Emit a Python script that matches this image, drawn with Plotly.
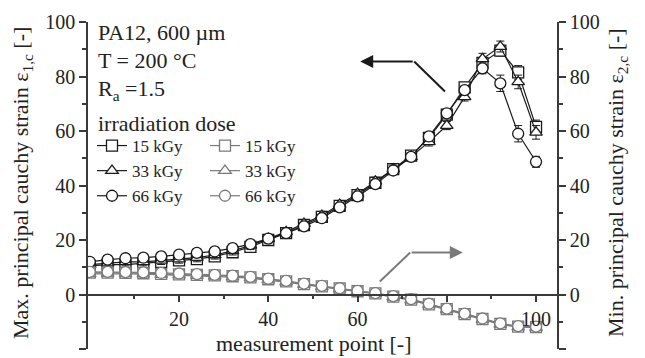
import plotly.graph_objects as go

# measurement points
points = [0, 4, 8, 12, 16, 20, 24, 28, 32, 36, 40, 44, 48, 52, 56, 60, 64, 68, 72, 76, 80, 84, 88, 92, 96, 100]

# max. principal cauchy strain (left axis)
max_15 = [10.5, 11, 11, 11.5, 12, 12.5, 13, 14, 15.5, 17.5, 20, 22.5, 25.5, 28.5, 32.5, 36.5, 41, 46, 51, 57.5, 66, 76, 85, 89.5, 81.5, 61.5]
max_33 = [11, 11.5, 12, 12, 12.5, 13, 13.5, 14.5, 16, 18, 20.5, 23, 26, 29, 33, 37, 41.5, 46, 50.5, 56, 62, 72.5, 86.5, 91, 78, 59.5]
max_66 = [12, 12.8, 13.3, 13.5, 14, 14.6, 15.3, 15.8, 17, 18.5, 20.5, 22.5, 25, 28, 32, 36, 40.5, 45.5, 50.5, 58, 66.5, 75, 83, 77.5, 59, 48.7]
err_max_15 = [1.5] * 22 + [2, 2, 2.5, 2.5]
err_max_33 = [1.5] * 22 + [2, 2, 2.5, 2.5]
err_max_66 = [1.5] * 22 + [2, 3, 3, 2]

# min. principal cauchy strain (right axis)
min_15 = [8, 8, 7.9, 7.8, 7.6, 7.4, 7.2, 7, 6.7, 6.3, 5.6, 4.8, 3.8, 3, 2.2, 1.2, 0.4, -0.8, -1.9, -3.6, -5.4, -7.2, -9, -10.8, -11.8, -12]
min_33 = [7.6, 7.7, 7.6, 7.5, 7.3, 7.1, 6.9, 6.7, 6.4, 6, 5.3, 4.5, 3.6, 2.8, 2, 1, 0.2, -1, -2.1, -3.8, -5.6, -7.4, -9.2, -11, -12, -12.2]
min_66 = [8.3, 8.3, 8.2, 8.1, 7.9, 7.7, 7.5, 7.2, 6.9, 6.5, 5.8, 5, 4, 3.2, 2.3, 1.3, 0.5, -0.6, -1.7, -3.4, -5.2, -7, -8.8, -10.6, -11.6, -11.8]
err_min = [1.0] * 26

doses = ["15 kGy", "33 kGy", "66 kGy"]
symbols = ["square-open", "triangle-up-open", "circle-open"]

y_ticks = [-20, 0, 20, 40, 60, 80, 100]
y_ticktext = ["-20", "0", "20", "40", "60", "80", "100"]
y_minor = [-10, 10, 30, 50, 70, 90]
x_ticks = [20, 40, 60, 80, 100]
x_ticktext = ["20", "40", "60", "", "100"]
x_minor = [10, 30, 50, 70, 90]

FONT = "Liberation Serif"
BLACK = "#1a1a1a"
GRAY = "#7a7a7a"
AX = "#3a3a3a"

fig = go.Figure()

for name, sym, vals, err in zip(doses, symbols, [min_15, min_33, min_66], [err_min] * 3):
    fig.add_trace(go.Scatter(
        x=points, y=vals, name=name, yaxis="y2", legend="legend2",
        mode="lines+markers",
        line=dict(color=GRAY, width=1.2),
        marker=dict(symbol=sym.replace("-open", ""), size=11, color="white",
                    line=dict(color=GRAY, width=1.3)),
        error_y=dict(type="data", array=err, color=GRAY, thickness=1, width=4),
    ))

for name, sym, vals, err in zip(doses, symbols, [max_15, max_33, max_66], [err_max_15, err_max_33, err_max_66]):
    fig.add_trace(go.Scatter(
        x=points, y=vals, name=name, yaxis="y", legend="legend",
        mode="lines+markers",
        line=dict(color=BLACK, width=1.2),
        marker=dict(symbol=sym.replace("-open", ""), size=11, color="white",
                    line=dict(color=BLACK, width=1.3)),
        error_y=dict(type="data", array=err, color=BLACK, thickness=1, width=4),
    ))

axis_common = dict(
    showline=True, linecolor=AX, linewidth=1.5, ticks="outside", ticklen=7,
    tickwidth=1.5, tickcolor=AX, showgrid=False, zeroline=False,
    tickfont=dict(family=FONT, size=20, color="#222"),
)

fig.update_layout(
    width=645, height=358,
    margin=dict(l=88, r=88, t=22, b=9),
    paper_bgcolor="white", plot_bgcolor="white",
    font=dict(family=FONT, color="#222"),
    xaxis=dict(range=[-0.4, 104.7], anchor="free", position=1 / 6,
               tickvals=x_ticks, ticktext=x_ticktext,
               minor=dict(tickvals=x_minor, ticks="outside", ticklen=4, tickcolor=AX, tickwidth=1.5),
               **axis_common),
    yaxis=dict(range=[-20, 100], tickvals=y_ticks, ticktext=y_ticktext,
               minor=dict(tickvals=y_minor, ticks="outside", ticklen=4, tickcolor=AX, tickwidth=1.5),
               **axis_common),
    yaxis2=dict(range=[-20, 100], overlaying="y", side="right", tickvals=y_ticks, ticktext=y_ticktext,
                minor=dict(tickvals=y_minor, ticks="outside", ticklen=4, tickcolor=AX, tickwidth=1.5),
                **axis_common),
    legend=dict(x=(92 - 88) / 469, y=(349 - 128) / 327, xanchor="left", yanchor="top",
                bgcolor="rgba(0,0,0,0)", font=dict(family=FONT, size=17, color="#222"),
                orientation="v", tracegroupgap=0),
    legend2=dict(x=(205 - 88) / 469, y=(349 - 128) / 327, xanchor="left", yanchor="top",
                 bgcolor="rgba(0,0,0,0)", font=dict(family=FONT, size=17, color="#222"),
                 orientation="v", tracegroupgap=0),
    showlegend=True,
)

def px_x(px):
    return (px - 88) / 469

def px_y(py):
    return (349 - py) / 327

texts = [
    ("PA12, 600 µm", 33),
    ("T = 200 °C", 60),
    ("R<sub>a</sub> =1.5", 90),
    ("irradiation dose", 123),
]
for t, py in texts:
    fig.add_annotation(text=t, x=px_x(96), y=px_y(py), xref="paper", yref="paper",
                       xanchor="left", yanchor="middle", showarrow=False,
                       font=dict(family=FONT, size=22, color="#222"))

fig.add_annotation(text="measurement point [-]", x=px_x(314), y=px_y(343), xref="paper", yref="paper",
                   xanchor="center", yanchor="middle", showarrow=False,
                   font=dict(family=FONT, size=22, color="#222"))
fig.add_annotation(text="Max. principal cauchy strain ε<sub>1,c</sub> [-]", x=px_x(22), y=px_y(183),
                   xref="paper", yref="paper", xanchor="center", yanchor="middle", textangle=-90,
                   showarrow=False, font=dict(family=FONT, size=22, color="#222"))
fig.add_annotation(text="Min. principal cauchy strain ε<sub>2,c</sub> [-]", x=px_x(617), y=px_y(183),
                   xref="paper", yref="paper", xanchor="center", yanchor="middle", textangle=-90,
                   showarrow=False, font=dict(family=FONT, size=22, color="#222"))

# arrows pointing to the respective axes
fig.add_shape(type="line", x0=79.6, y0=74.5, x1=72.7, y1=85.5, xref="x", yref="y",
              line=dict(color=BLACK, width=2))
fig.add_annotation(x=60.6, y=85.5, ax=72.7, ay=85.5, xref="x", yref="y", axref="x", ayref="y",
                   text="", showarrow=True, arrowhead=2, arrowsize=1.3, arrowwidth=2, arrowcolor=BLACK)
fig.add_shape(type="line", x0=65.0, y0=4.8, x1=71.8, y1=15.4, xref="x", yref="y",
              line=dict(color=GRAY, width=2))
fig.add_annotation(x=83.6, y=15.4, ax=71.8, ay=15.4, xref="x", yref="y", axref="x", ayref="y",
                   text="", showarrow=True, arrowhead=2, arrowsize=1.3, arrowwidth=2, arrowcolor=GRAY)

fig.write_html("out.html")
